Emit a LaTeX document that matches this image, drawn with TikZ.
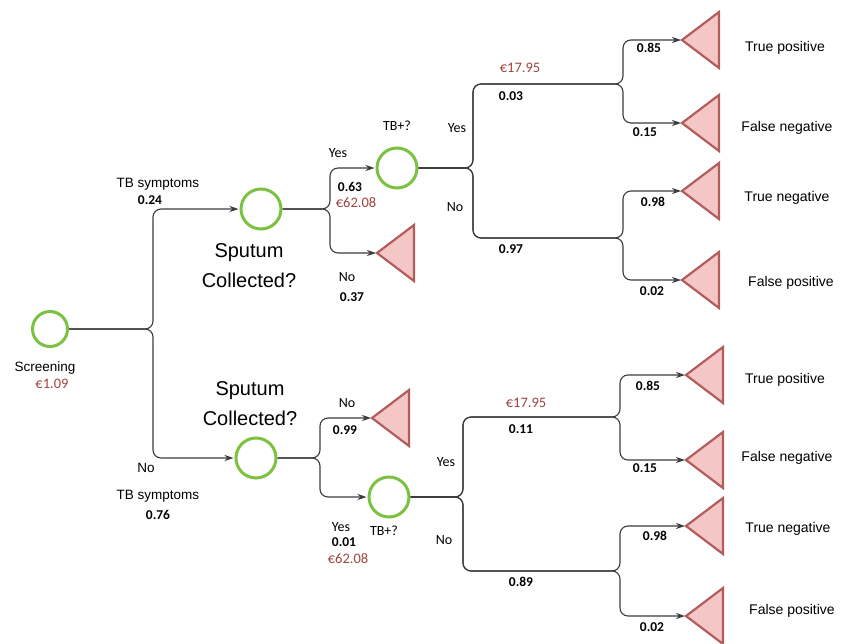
\documentclass[tikz,border=0pt]{standalone}
\usepackage{fontspec}
\setmainfont{Liberation Sans}
\newfontfamily\numfont{Carlito}
\usetikzlibrary{arrows.meta}
\definecolor{chgreen}{RGB}{124,193,66}
\definecolor{leaffill}{RGB}{245,198,198}
\definecolor{leafdraw}{RGB}{178,92,92}
\definecolor{eurored}{RGB}{160,66,63}
\definecolor{edgegray}{RGB}{60,60,60}
\tikzset{
  chance/.style={circle,draw=chgreen,line width=3pt,minimum size=40pt,inner sep=0pt,fill=white},
  leaf/.style={draw=leafdraw,fill=leaffill,line width=2.2pt,line join=miter},
  edge/.style={draw=edgegray,line width=1.1pt,rounded corners=8pt},
  arr/.style={edge,-{Stealth[length=9pt,width=6pt]},shorten >=1pt},
  lbl/.style={inner sep=0pt,font=\fontsize{13.5}{15}\selectfont},
  wrd/.style={inner sep=0pt,font=\numfont\fontsize{14}{15}\selectfont},
  num/.style={inner sep=0pt,font=\numfont\bfseries\fontsize{13.5}{15}\selectfont},
  eur/.style={inner sep=0pt,font=\numfont\fontsize{14.5}{15}\selectfont,text=eurored},
  big/.style={inner sep=0pt,align=center,font=\fontsize{20}{30}\selectfont},
  outc/.style={inner sep=0pt,font=\fontsize{14}{16}\selectfont}
}
\begin{document}
\begin{tikzpicture}[x=1pt,y=-1pt]
\useasboundingbox (0,0) rectangle (841,643);
% ---- chance nodes
\node[chance,minimum size=35pt] (scr) at (50,329) {};
\node[chance] (sp1) at (261,209) {};
\node[chance] (sp2) at (256,458) {};
\node[chance] (tb1) at (397,168) {};
\node[chance] (tb2) at (389,497) {};
% ---- leaf apex coordinates
\coordinate (ls1) at (377,253);
\coordinate (ls2) at (372,418);
\coordinate (u1) at (682,40);
\coordinate (u2) at (682,123);
\coordinate (u3) at (682,191);
\coordinate (u4) at (682,280);
\coordinate (d1) at (686,375);
\coordinate (d2) at (686,460);
\coordinate (d3) at (686,526);
\coordinate (d4) at (686,616);
\foreach \t in {ls1,ls2,u1,u2,u3,u4,d1,d2,d3,d4}
  \draw[leaf] (\t) -- ++(37,-28) -- ++(0,56) -- cycle;
% ---- branch points
\coordinate (b0) at (153,329);
\coordinate (b1) at (330,209);
\coordinate (b2) at (320,458);
\coordinate (c1) at (473,168);
\coordinate (c1u) at (623,84);
\coordinate (c1d) at (623,238);
\coordinate (c2) at (463,497);
\coordinate (c2u) at (620,417);
\coordinate (c2d) at (620,571);
% ---- connectors
\draw[arr] (scr) -- (b0) |- (sp1);
\draw[arr] (scr) -- (b0) |- (sp2);
\draw[arr] (sp1) -- (b1) |- (tb1);
\draw[arr] (sp1) -- (b1) |- (ls1);
\draw[arr] (sp2) -- (b2) |- (ls2);
\draw[arr] (sp2) -- (b2) |- (tb2);
\draw[arr] (tb1) -- (c1) |- (c1u) |- (u1);
\draw[arr] (tb1) -- (c1) |- (c1u) |- (u2);
\draw[arr] (tb1) -- (c1) |- (c1d) |- (u3);
\draw[arr] (tb1) -- (c1) |- (c1d) |- (u4);
\draw[arr] (tb2) -- (c2) |- (c2u) |- (d1);
\draw[arr] (tb2) -- (c2) |- (c2u) |- (d2);
\draw[arr] (tb2) -- (c2) |- (c2d) |- (d3);
\draw[arr] (tb2) -- (c2) |- (c2d) |- (d4);
% ---- labels upper
\node[lbl] (l1) at (158,184) {TB symptoms};
\node[num] (l2) at (150,200) {0.24};
\node[big] (l3) at (249,266) {Sputum\\Collected?};
\node[wrd] (l4) at (338,153) {Yes};
\node[num] (l5) at (350,187) {0.63};
\node[eur] (l6) at (356,203) {€62.08};
\node[wrd] (l7) at (347,277) {No};
\node[num] (l8) at (352,297) {0.37};
\node[wrd] (l9) at (397,126) {TB+?};
\node[wrd] (l10) at (457,128) {Yes};
\node[wrd] (l11) at (455,207) {No};
\node[eur] (l12) at (520,68) {€17.95};
\node[num] (l13) at (511,96) {0.03};
\node[num] (l14) at (511,249) {0.97};
\node[num] (l15) at (649,48) {0.85};
\node[num] (l16) at (645,132) {0.15};
\node[num] (l17) at (653,202) {0.98};
\node[num] (l18) at (652,291) {0.02};
\node[outc] (o1) at (785,48) {True positive};
\node[outc] (o2) at (787,128) {False negative};
\node[outc] (o3) at (787,198) {True negative};
\node[outc] (o4) at (791,283) {False positive};
% ---- labels lower
\node[lbl] (m1) at (45,368) {Screening};
\node[eur] (m2) at (52,384) {€1.09};
\node[big] (m3) at (250,404) {Sputum\\Collected?};
\node[lbl] (m4) at (146,468) {No};
\node[lbl] (m5) at (158,496) {TB symptoms};
\node[num] (m6) at (158,515) {0.76};
\node[wrd] (m7) at (347,403) {No};
\node[num] (m8) at (345,430) {0.99};
\node[wrd] (m9) at (341,527) {Yes};
\node[num] (m10) at (344,542) {0.01};
\node[eur] (m11) at (348,559) {€62.08};
\node[wrd] (m12) at (384,531) {TB+?};
\node[wrd] (m13) at (446,462) {Yes};
\node[wrd] (m14) at (444,540) {No};
\node[eur] (m15) at (526,403) {€17.95};
\node[num] (m16) at (521,429) {0.11};
\node[num] (m17) at (521,582) {0.89};
\node[num] (m18) at (648,386) {0.85};
\node[num] (m19) at (645,468) {0.15};
\node[num] (m20) at (655,536) {0.98};
\node[num] (m21) at (652,627) {0.02};
\node[outc] (p1) at (785,380) {True positive};
\node[outc] (p2) at (787,458) {False negative};
\node[outc] (p3) at (788,529) {True negative};
\node[outc] (p4) at (792,611) {False positive};
\end{tikzpicture}
\end{document}
